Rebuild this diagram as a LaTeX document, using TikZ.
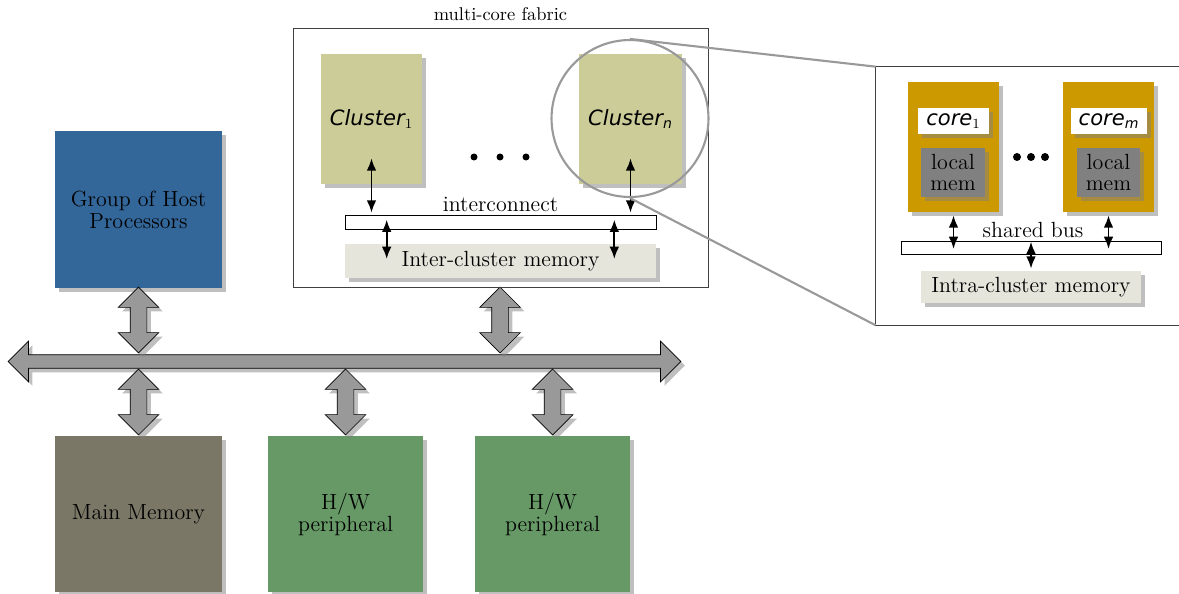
\documentclass[tikz,border=0pt]{standalone}
\usepackage{fontspec}
\usepackage[usenames,dvipsnames]{xcolor}
\usetikzlibrary{calc}
\usetikzlibrary{arrows.meta}
\usetikzlibrary{shapes.arrows}
\usetikzlibrary{shadows}
\newfontfamily\labelfont{DejaVu Sans}
\definecolor{hostblue}{RGB}{51,102,153}
\definecolor{memgray}{RGB}{122,119,102}
\definecolor{hwgreen}{RGB}{102,153,102}
\definecolor{clusterkhaki}{RGB}{204,204,153}
\definecolor{coreorange}{RGB}{204,153,0}
\definecolor{localgray}{RGB}{128,128,128}
\definecolor{sharedmem}{RGB}{229,229,220}
\definecolor{zoomgray}{RGB}{153,153,153}
\tikzstyle{shadowed}=[drop shadow={shadow xshift=0.08cm,shadow yshift=-0.08cm}]
\tikzstyle{block}=[shadowed,inner sep=0pt,align=center,font=\fontsize{12.5}{12.5}\selectfont]
\tikzstyle{fat}=[double arrow,draw=black,fill=zoomgray,inner sep=0pt,double arrow tip angle=90,shadowed]
\tikzstyle{fatarrow}=[fat,inner ysep=0.16cm,double arrow head extend=0.24cm,minimum height=1.32cm,rotate=90]
\tikzstyle{busarrow}=[fat,inner ysep=0.13cm,double arrow head extend=0.27cm,minimum height=13.46cm]
\tikzstyle{bar}=[draw=black,fill=white,inner sep=0pt,minimum height=0.28cm]
\tikzstyle{dot}=[circle,fill=black,inner sep=0pt,minimum size=0.14cm]
\tikzstyle{biarrow}=[<->,line width=1.1pt]
\newcommand{\sflabel}[2]{{\fontsize{12}{12}\selectfont\labelfont\itshape #1\textsubscript{#2}}}

\begin{document}
\begin{tikzpicture}[>={Latex[length=7pt,width=5.5pt]},x=0.02cm,y=-0.02cm]
		\useasboundingbox (0,0) rectangle (1179,594);
		
		% host side and the system bus
		\node[block,fill=hostblue,minimum width=3.34cm,minimum height=3.14cm] (host) at (138.5,209.5) {Group of Host\\Processors};
		\node[block,fill=memgray,minimum width=3.36cm,minimum height=3.12cm] (mainmem) at (138.5,514) {Main Memory};
		\node[block,fill=hwgreen,minimum width=3.1cm,minimum height=3.12cm] (hwa) at (345.5,514) {H/W\\peripheral};
		\node[block,fill=hwgreen,minimum width=3.1cm,minimum height=3.12cm] (hwb) at (552.5,514) {H/W\\peripheral};
		
		\node[busarrow] (bus) at (344.5,361.5) {};%bus
		\node[fatarrow] (hostlink) at (138.5,320) {};
		\node[fatarrow] (fabriclink) at (500,320) {};
		\node[fatarrow] (memlink) at (138.5,402) {};
		\node[fatarrow] (hwalink) at (345.5,402) {};
		\node[fatarrow] (hwblink) at (552.5,402) {};
		
		% multi-core fabric
		\node[draw=black!75,inner sep=0pt,minimum width=8.3cm,minimum height=5.18cm] (fabric) at (500.5,157.5) {};
		\node[font=\fontsize{10.5}{11}\selectfont] (fabriclbl) at (500.5,14) {multi-core fabric};
		\node[block,fill=clusterkhaki,minimum width=2.03cm,minimum height=2.6cm] (clusa) at (371.5,119) {\sflabel{Cluster}{\upshape\rmfamily 1}};
		\node[block,fill=clusterkhaki,minimum width=2.06cm,minimum height=2.6cm] (clusn) at (630.5,119) {\sflabel{Cluster}{n}};
		\foreach \i/\xx in {1/474,2/500,3/526}
			\node[dot] (fdot\i) at (\xx,157) {};
		\node[bar,minimum width=6.22cm] (icbar) at (500.5,222) {};
		\node[font=\fontsize{12.5}{12.5}\selectfont] (icbarlbl) at (500.5,204) {interconnect};
		\node[block,fill=sharedmem,minimum width=6.22cm,minimum height=0.68cm] (icmem) at (500.5,261) {Inter-cluster memory};
		
		\draw[biarrow] ($(clusa.south)+(0,-26)$) -- ($(clusa.south |- icbar.north)+(0,-2)$);
		\draw[biarrow] ($(clusn.south)+(0,-26)$) -- ($(clusn.south |- icbar.north)+(0,-2)$);
		\draw[biarrow] ($(icbar.north west)+(42,5)$) -- ($(icmem.west)+(42,-2)$);
		\draw[biarrow] ($(icbar.north east)+(-42,5)$) -- ($(icmem.east)+(-42,-2)$);
		
		% zoom into one cluster
		\node[circle,draw=zoomgray,line width=1.2pt,inner sep=0pt,minimum size=3.14cm] (lens) at (630,118.5) {};
		\node[inner sep=0pt,minimum width=6.06cm,minimum height=5.16cm] (zoombox) at (1027.5,196) {};
		\draw[black!75] (zoombox.north east) -- (zoombox.north west) -- (zoombox.south west) -- (zoombox.south east);
		\draw[zoomgray,line width=1.2pt] (lens.north) -- (zoombox.north west);
		\draw[zoomgray,line width=1.2pt] (lens.south) -- (zoombox.south west);
		
		\node[block,fill=coreorange,minimum width=1.82cm,minimum height=2.6cm] (corea) at (953.5,147) {};
		\node[block,fill=white,minimum width=1.42cm,minimum height=0.52cm] (corealbl) at (953.5,121) {\sflabel{core}{\upshape\rmfamily 1}};
		\node[block,fill=localgray,minimum width=1.28cm,minimum height=0.98cm] (coreamem) at (953,172.5) {local\\mem};
		\node[block,fill=coreorange,minimum width=1.82cm,minimum height=2.6cm] (corem) at (1108.5,147) {};
		\node[block,fill=white,minimum width=1.52cm,minimum height=0.52cm] (coremlbl) at (1109,121) {\sflabel{core}{m}};
		\node[block,fill=localgray,minimum width=1.26cm,minimum height=0.98cm] (coremmem) at (1108.5,172.5) {local\\mem};
		\foreach \i/\xx in {1/1017,2/1031,3/1045}
			\node[dot,minimum size=0.16cm] (zdot\i) at (\xx,157) {};
		
		\node[bar,minimum width=5.2cm,minimum height=0.26cm] (sbar) at (1031,247.5) {};
		\node[font=\fontsize{12.5}{12.5}\selectfont] (sbarlbl) at (1033,230) {shared bus};
		\node[block,fill=sharedmem,minimum width=4.4cm,minimum height=0.64cm] (intramem) at (1031,287) {Intra-cluster memory};
		
		\draw[biarrow] ($(corea.south)+(0,3)$) -- ($(corea.south |- sbar.center)+(0,1.5)$);
		\draw[biarrow] ($(corem.south)+(0,3)$) -- ($(corem.south |- sbar.center)+(0,1.5)$);
		\draw[biarrow] ($(sbar.north)+(0,1)$) -- ($(intramem.north)+(0,-2)$);
\end{tikzpicture}
\end{document}
